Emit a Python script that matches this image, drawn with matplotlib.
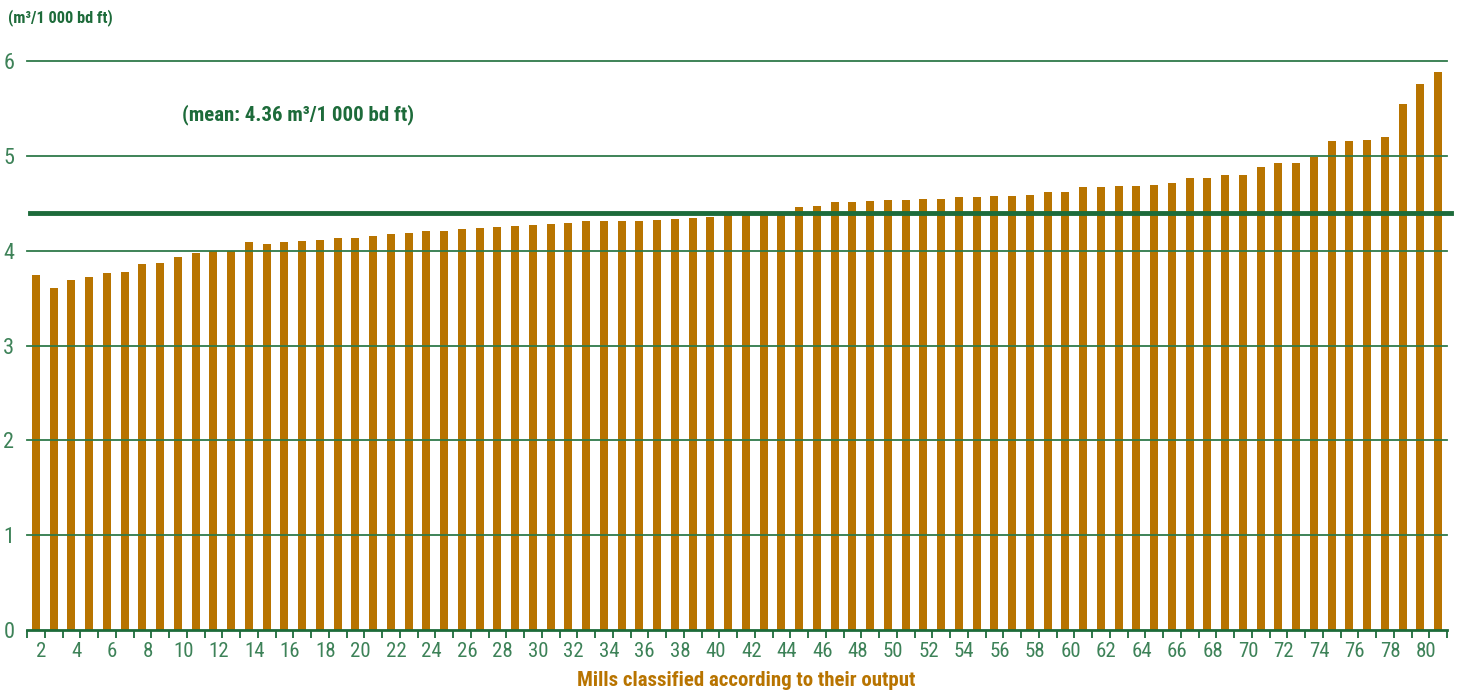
import numpy as np
import matplotlib
matplotlib.use("Agg")
import matplotlib.pyplot as plt

# data: m3 per 1000 bd ft, mills sorted by output
mills = np.arange(1, 81)
values = [3.74, 3.61, 3.69, 3.72, 3.76, 3.78, 3.86, 3.87, 3.93, 3.98,
          4.00, 4.00, 4.09, 4.07, 4.09, 4.10, 4.11, 4.13, 4.13, 4.15,
          4.18, 4.19, 4.21, 4.21, 4.23, 4.24, 4.25, 4.26, 4.27, 4.28,
          4.29, 4.31, 4.31, 4.31, 4.31, 4.32, 4.33, 4.34, 4.36, 4.38,
          4.39, 4.39, 4.40, 4.46, 4.47, 4.51, 4.51, 4.52, 4.53, 4.53,
          4.54, 4.54, 4.57, 4.57, 4.58, 4.58, 4.59, 4.62, 4.62, 4.67,
          4.67, 4.68, 4.68, 4.69, 4.71, 4.77, 4.77, 4.80, 4.80, 4.88,
          4.92, 4.92, 4.99, 5.16, 5.16, 5.17, 5.20, 5.55, 5.76, 5.88]
mean_line = 4.40
xlabels = np.arange(2, 81, 2)
yticks = [0, 1, 2, 3, 4, 5, 6]

bar_col = "#b87400"
grid_col = "#2f7a4a"
dark_green = "#1d6b3a"
lab_green = "#3d8258"

plt.rcParams['font.family'] = ['Roboto Condensed', 'Roboto', 'DejaVu Sans']

fig = plt.figure(figsize=(14.61, 6.92), dpi=100)
ax = fig.add_axes([27/1461, 1-630/692, 1420/1461, 569/692])

ax.bar(mills, values, width=0.46, color=bar_col, zorder=2)
for y in yticks[1:]:
    ax.axhline(y, color=grid_col, lw=1.3, zorder=3, clip_on=False)
ax.axhline(mean_line, color=dark_green, lw=3.5, zorder=4, xmin=0.002, xmax=1.003, clip_on=False)

ax.set_xlim(0.5, 80.5)
ax.set_ylim(0, 6)
for s in ["top", "right", "left"]:
    ax.spines[s].set_visible(False)
ax.spines["bottom"].set_color(dark_green)
ax.spines["bottom"].set_linewidth(2)

ax.set_yticks(yticks)
ax.set_yticklabels([str(v) for v in yticks], fontsize=16, color=lab_green)
ax.tick_params(axis="y", length=0, pad=9)

ax.set_xticks(np.arange(0.5, 81, 1))
ax.set_xticklabels([])
ax.tick_params(axis="x", length=6, width=1.3, color=dark_green)
for k in xlabels:
    ax.text(k - 0.7, -0.13, str(k), ha="center", va="top", fontsize=15,
            color=lab_green, transform=ax.transData)

fig.text(8/1461, 1-18/692, "(m³/1 000 bd ft)", ha="left", va="center",
         fontsize=11.8, color=dark_green, fontweight="bold")
ax.text(0.109, 5.43, "(mean: 4.36 m³/1 000 bd ft)", ha="left", va="center",
        fontsize=15, color=dark_green, fontweight="bold", transform=ax.get_yaxis_transform())
fig.text(746/1461, 1-681/692, "Mills classified according to their output",
         ha="center", va="center", fontsize=15, color=bar_col, fontweight="bold")

fig.savefig("out.png", dpi=100)
